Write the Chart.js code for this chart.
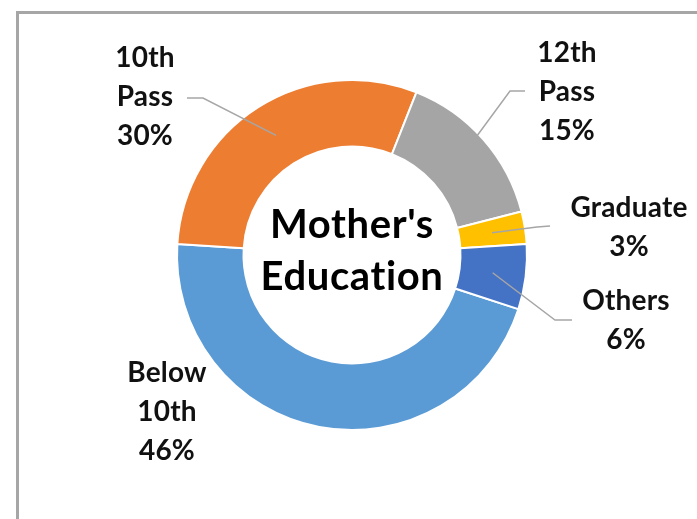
<!DOCTYPE html>
<html>
<head>
<meta charset="utf-8">
<script src="https://cdn.jsdelivr.net/npm/chart.js@4"></script>
<style>
  html, body { margin: 0; padding: 0; background: #fff; overflow: hidden; }
  #wrap { position: relative; width: 697px; height: 519px; }
  #frame { position: absolute; left: 16px; top: 11px; width: 800px; height: 600px; border: 3px solid #a6a6a6; box-sizing: border-box; }
  #eduChart { position: absolute; left: 0; top: 0; }
</style>
</head>
<body>
<div id="wrap">
  <div id="frame"></div>
  <canvas id="eduChart" width="697" height="519"></canvas>
</div>
<script>
// Mother's Education - share of respondents
var categories = ['Below 10th', '10th Pass', '12th Pass', 'Graduate', 'Others'];
var percents = [46, 30, 15, 3, 6];
var sliceColors = ['#5B9BD5', '#ED7D31', '#A5A5A5', '#FFC000', '#4472C4'];

// label text lines (Excel wraps the category names)
var labelLines = [['Below', '10th'], ['10th', 'Pass'], ['12th', 'Pass'], ['Graduate'], ['Others']];

// where each label sits, relative to the doughnut centre (manual Excel placement)
var labelSpots = [
  { x: -185, y: 118, lead: null },
  { x: -207, y: -197, lead: [[-165, -157], [-149, -157]] },
  { x: 215, y: -202, lead: [[173, -164], [158, -164]] },
  { x: 277, y: -47, lead: [[198, -29], [185, -28]] },
  { x: 274, y: 46, lead: [[220, 65], [203, 65]] }
];

var FONT = "'Lato', 'Liberation Sans', sans-serif";

var labelPlugin = {
  id: 'eduLabels',
  afterDatasetsDraw: function(chart) {
    var ctx = chart.ctx;
    var meta = chart.getDatasetMeta(0);
    var cx = meta.data[0].x, cy = meta.data[0].y;
    ctx.save();

    // leader lines
    ctx.strokeStyle = '#a6a6a6';
    ctx.lineWidth = 1.5;
    meta.data.forEach(function(arc, i) {
      var spot = labelSpots[i];
      if (!spot.lead) return;
      var p = arc.tooltipPosition();
      ctx.beginPath();
      ctx.moveTo(cx + spot.lead[0][0], cy + spot.lead[0][1]);
      ctx.lineTo(cx + spot.lead[1][0], cy + spot.lead[1][1]);
      ctx.lineTo(p.x, p.y);
      ctx.stroke();
    });

    // label text
    ctx.fillStyle = '#111';
    ctx.textAlign = 'center';
    ctx.textBaseline = 'middle';
    ctx.font = 'bold 28px ' + FONT;
    ctx.letterSpacing = '0.2px';
    categories.forEach(function(c, i) {
      var lines = labelLines[i].concat([percents[i] + '%']);
      lines.forEach(function(t, k) {
        ctx.fillText(t, cx + labelSpots[i].x, cy + labelSpots[i].y + k * 39);
      });
    });

    // centre title
    ctx.fillStyle = '#000';
    ctx.font = 'bold 40px ' + FONT;
    ctx.letterSpacing = '0.6px';
    ctx.textBaseline = 'alphabetic';
    ctx.fillText("Mother's", cx, cy - 17);
    ctx.fillText('Education', cx, cy + 35);
    ctx.restore();
  }
};

var ctx = document.getElementById('eduChart').getContext('2d');
var eduChart = new Chart(ctx, {
  type: 'doughnut',
  data: {
    labels: categories,
    datasets: [{
      data: percents,
      backgroundColor: sliceColors,
      borderColor: '#FFFFFF',
      borderWidth: 2
    }]
  },
  options: {
    responsive: false,
    animation: false,
    rotation: 108,
    cutout: '62%',
    layout: { padding: { left: 176, right: 169, top: 79, bottom: 88 } },
    plugins: {
      legend: { display: false },
      tooltip: { enabled: false }
    }
  },
  plugins: [labelPlugin]
});
</script>
</body>
</html>
